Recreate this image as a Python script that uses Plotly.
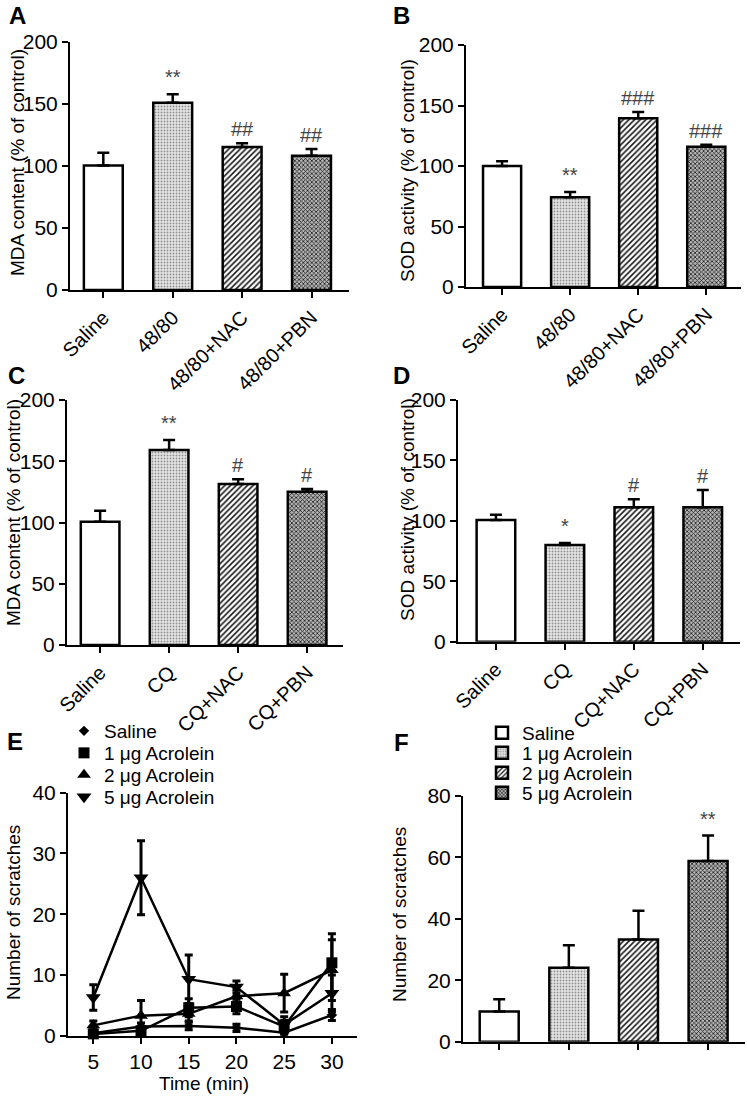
import plotly.graph_objects as go

W, H = 747, 1096
FONT = "Liberation Sans, Arial, Helvetica, sans-serif"

# ---------------- data ----------------
cats_4880 = ["Saline", "48/80", "48/80+NAC", "48/80+PBN"]
cats_cq = ["Saline", "CQ", "CQ+NAC", "CQ+PBN"]

mda_4880 = [100.5, 151.0, 115.3, 108.3]
mda_4880_err = [10.2, 6.8, 3.0, 5.4]
mda_4880_sig = ["", "**", "##", "##"]

sod_4880 = [100.0, 74.1, 139.4, 116.0]
sod_4880_err = [3.9, 4.4, 5.2, 1.6]
sod_4880_sig = ["", "**", "###", "###"]

mda_cq = [100.7, 159.2, 131.4, 125.1]
mda_cq_err = [8.9, 8.1, 3.9, 2.2]
mda_cq_sig = ["", "**", "#", "#"]

sod_cq = [100.7, 80.0, 111.2, 111.2]
sod_cq_err = [4.4, 1.7, 6.6, 14.3]
sod_cq_sig = ["", "*", "#", "#"]

groups = ["Saline", "1 μg Acrolein", "2 μg Acrolein", "5 μg Acrolein"]
time_min = [5, 10, 15, 20, 25, 30]
scr_saline = [0.4, 1.5, 1.6, 1.3, 0.5, 3.4]
scr_saline_err = [0.4, 0.6, 0.6, 0.6, 0.4, 0.9]
scr_1ug = [0.3, 0.8, 4.6, 4.8, 1.5, 12.0]
scr_1ug_err = [0.4, 0.6, 1.5, 1.2, 1.0, 4.8]
scr_2ug = [1.7, 3.3, 3.6, 6.5, 7.0, 10.8]
scr_2ug_err = [0.7, 2.5, 1.2, 1.0, 3.1, 5.0]
scr_5ug = [6.3, 26.0, 9.3, 8.0, 1.8, 7.0]
scr_5ug_err = [2.1, 6.1, 4.0, 1.0, 1.3, 3.0]

total_scr = [9.8, 24.1, 33.3, 58.8]
total_scr_err = [4.0, 7.3, 9.3, 8.3]
total_scr_sig = ["", "", "", "**"]

# ---------------- styles ----------------
BAR_STYLES = [
    dict(color="white"),
    dict(color="#e0e0e0", pattern=dict(shape=".", fgcolor="#8f8f8f", bgcolor="#e6e6e6", size=3, solidity=0.3)),
    dict(color="#ffffff", pattern=dict(shape="/", fgcolor="#1a1a1a", bgcolor="#ffffff", size=4, solidity=0.4)),
    dict(color="#a0a0a0", pattern=dict(shape="x", fgcolor="#1e1e1e", bgcolor="#b4b4b4", size=3, solidity=0.45)),
]
E_MARKERS = [("diamond", 8), ("square", 11), ("triangle-up", 12), ("triangle-down", 13)]


def xd(a, b):
    return [a / W, b / W]


def yd(top, bottom):
    return [1 - bottom / H, 1 - top / H]


# panel geometry in pixels: (x_left, x_right, y_top, y_bottom)
PANELS = {
    1: (70, 349, 42, 290),
    2: (466, 741, 45, 287),
    3: (67, 343, 400, 645),
    4: (458, 740, 400, 641.7),
    5: (68, 356.7, 792.7, 1035.7),
    6: (463, 745, 796, 1041.7),
}
CAT_RANGES = {1: [-0.48, 3.54], 2: [-0.53, 3.51], 3: [-0.48, 3.52], 4: [-0.55, 3.54], 6: [-0.52, 3.53]}

fig = go.Figure()
annotations = []


def axis_common():
    return dict(showline=True, linecolor="black", linewidth=2, ticks="outside", ticklen=6,
                tickwidth=2, tickcolor="black", showgrid=False, zeroline=False, automargin=False,
                tickfont=dict(family=FONT, size=21, color="black"), fixedrange=True)


def bar_panel(n, cats, vals, errs, sigs, yrange, dtick, legend_names=None):
    xs = "x" if n == 1 else f"x{n}"
    ys = "y" if n == 1 else f"y{n}"
    x0, x1, t, b = PANELS[n]
    for i, c in enumerate(cats):
        st = BAR_STYLES[i]
        marker = dict(color=st["color"], line=dict(color="black", width=2.5))
        if "pattern" in st:
            marker["pattern"] = st["pattern"]
        if legend_names is not None:
            kw = dict(name=legend_names[i], showlegend=True, legend=f"legend{i + 5}")
        else:
            kw = dict(showlegend=False)
        fig.add_trace(go.Bar(
            x=[i], y=[vals[i]], width=0.56, marker=marker, xaxis=xs, yaxis=ys,
            error_y=dict(type="data", symmetric=False, array=[errs[i]], arrayminus=[0],
                         color="black", thickness=2.5, width=6),
            cliponaxis=False, **kw))
        if sigs[i]:
            gap_px = 17 if "*" in sigs[i] else 14
            gap = gap_px * (yrange[1] - yrange[0]) / (b - t)
            annotations.append(dict(x=i, y=vals[i] + errs[i] + gap, xref=xs, yref=ys, text=sigs[i],
                                    showarrow=False, yanchor="middle",
                                    font=dict(family=FONT, size=20, color="#444444")))
    ax = axis_common()
    ax.update(domain=xd(x0, x1), range=CAT_RANGES[n], tickvals=list(range(len(cats))),
              ticktext=cats, anchor=ys)
    if legend_names is None:
        ax.update(tickangle=-45, tickfont=dict(family=FONT, size=20, color="black"))
    else:
        ax.update(showticklabels=False)
    ay = axis_common()
    ay.update(domain=yd(t, b), range=yrange, dtick=dtick, tick0=0, anchor=xs)
    fig.update_layout(**{("xaxis" if n == 1 else f"xaxis{n}"): ax,
                         ("yaxis" if n == 1 else f"yaxis{n}"): ay})


bar_panel(1, cats_4880, mda_4880, mda_4880_err, mda_4880_sig, [0, 200], 50)
bar_panel(2, cats_4880, sod_4880, sod_4880_err, sod_4880_sig, [0, 200], 50)
bar_panel(3, cats_cq, mda_cq, mda_cq_err, mda_cq_sig, [0, 200], 50)
bar_panel(4, cats_cq, sod_cq, sod_cq_err, sod_cq_sig, [0, 200], 50)
bar_panel(6, groups, total_scr, total_scr_err, total_scr_sig, [0, 80], 20, legend_names=groups)

# ---- panel E (time course) ----
series = [(scr_saline, scr_saline_err), (scr_1ug, scr_1ug_err), (scr_2ug, scr_2ug_err), (scr_5ug, scr_5ug_err)]
for i, (vals, errs) in enumerate(series):
    sym, sz = E_MARKERS[i]
    fig.add_trace(go.Scatter(
        x=time_min, y=vals, mode="lines+markers", xaxis="x5", yaxis="y5", showlegend=False,
        line=dict(color="black", width=2.5), marker=dict(symbol=sym, size=sz, color="black"),
        error_y=dict(type="data", array=errs, color="black", thickness=3, width=4),
        cliponaxis=False))
    fig.add_trace(go.Scatter(
        x=[None], y=[None], mode="markers", xaxis="x5", yaxis="y5", name=groups[i],
        marker=dict(symbol=sym, size=sz, color="black"), showlegend=True,
        legend="legend" if i == 0 else f"legend{i + 1}"))

x0, x1, t, b = PANELS[5]
ax = axis_common()
ax.update(domain=xd(x0, x1), range=[2.35, 32.6], tick0=5, dtick=5, anchor="y5")
ay = axis_common()
ay.update(domain=yd(t, b), range=[0, 40], dtick=10, tick0=0, anchor="x5")
fig.update_layout(xaxis5=ax, yaxis5=ay)

# ---- legends ----
legend_rows_E = [731, 753, 775, 797]
legend_rows_F = [733, 753, 773, 793]
leg = {}
for i, yy in enumerate(legend_rows_E):
    key = "legend" if i == 0 else f"legend{i + 1}"
    leg[key] = dict(x=64 / W, y=1 - yy / H, xanchor="left", yanchor="middle",
                    font=dict(family=FONT, size=19, color="black"), bgcolor="rgba(0,0,0,0)",
                    borderwidth=0, itemclick=False, itemdoubleclick=False)
for i, yy in enumerate(legend_rows_F):
    key = f"legend{i + 5}"
    leg[key] = dict(x=482 / W, y=1 - yy / H, xanchor="left", yanchor="middle",
                    font=dict(family=FONT, size=19, color="black"), bgcolor="rgba(0,0,0,0)",
                    borderwidth=0, itemclick=False, itemdoubleclick=False)
fig.update_layout(**leg)


def ytitle(text, xc, yc):
    annotations.append(dict(x=xc / W, y=1 - yc / H, xref="paper", yref="paper", text=text,
                            textangle=-90, showarrow=False, xanchor="center", yanchor="middle",
                            font=dict(family=FONT, size=19, color="black")))


ytitle("MDA content (% of control)", 18, 163)
ytitle("SOD activity (% of control)", 407, 171)
ytitle("MDA content (% of control)", 13, 513)
ytitle("SOD activity (% of control)", 407, 510)
ytitle("Number of scratches", 13, 913)
ytitle("Number of scratches", 399, 915)
annotations.append(dict(x=204 / W, y=1 - 1083 / H, xref="paper", yref="paper", text="Time (min)",
                        showarrow=False, xanchor="center", yanchor="middle",
                        font=dict(family=FONT, size=19, color="black")))

for lab, xc, yc in [("A", 17, 16), ("B", 401, 16), ("C", 16, 375), ("D", 401, 375), ("E", 15, 741), ("F", 401, 742)]:
    annotations.append(dict(x=xc / W, y=1 - yc / H, xref="paper", yref="paper", text=f"<b>{lab}</b>",
                            showarrow=False, xanchor="center", yanchor="middle",
                            font=dict(family=FONT, size=24, color="black")))

fig.update_layout(
    template="none",
    width=W, height=H, margin=dict(l=0, r=0, t=0, b=0, autoexpand=False),
    paper_bgcolor="white", plot_bgcolor="white", barmode="overlay",
    annotations=annotations, font=dict(family=FONT, color="black"),
)

fig.write_html("out.html", config={"displayModeBar": False, "staticPlot": True},
               post_script="document.body.style.margin='0px';document.body.style.overflow='hidden';")
